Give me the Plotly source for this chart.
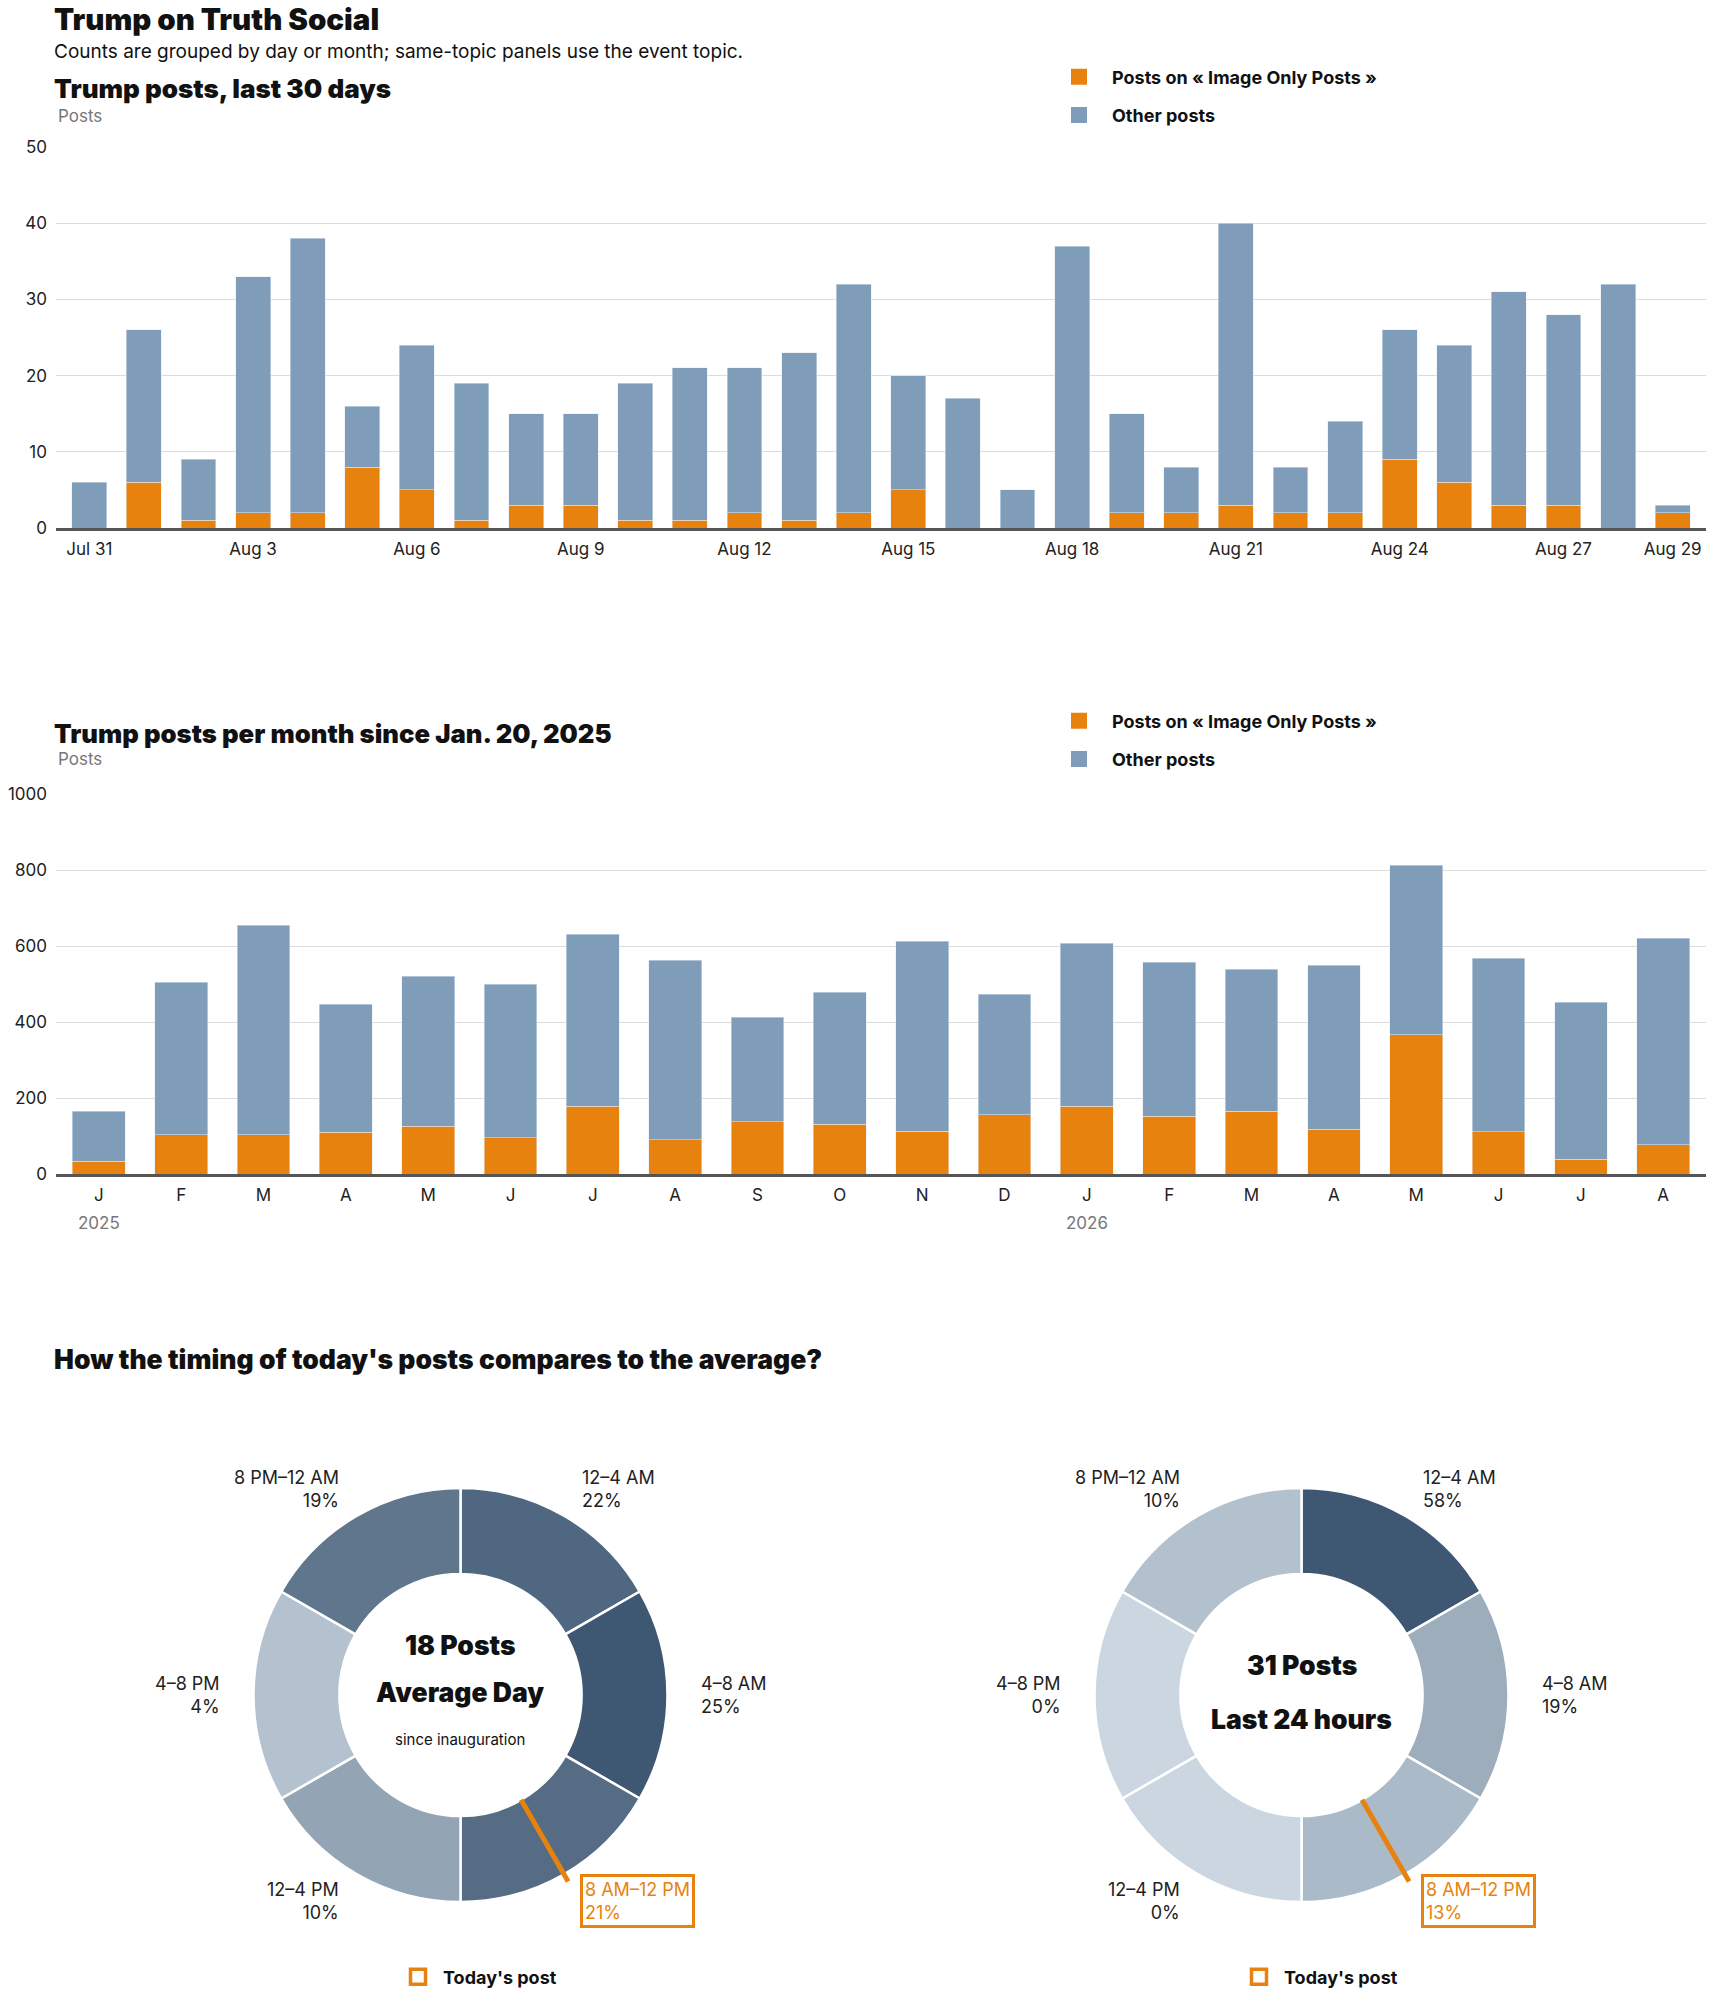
import plotly.graph_objects as go
import pandas as pd
import math

# ---- data ----
# last 30 days (Jul 31 - Aug 29)
day_dates = pd.date_range("2026-07-31", "2026-08-29")
day_topic = [0, 6, 1, 2, 2, 8, 5, 1, 3, 3, 1, 1, 2, 1, 2,
             5, 0, 0, 0, 2, 2, 3, 2, 2, 9, 6, 3, 3, 0, 2]
day_total = [6, 26, 9, 33, 38, 16, 24, 19, 15, 15, 19, 21, 21, 23, 32,
             20, 17, 5, 37, 15, 8, 40, 8, 14, 26, 24, 31, 28, 32, 3]
day_ticks = ["Jul 31", "Aug 3", "Aug 6", "Aug 9", "Aug 12", "Aug 15",
             "Aug 18", "Aug 21", "Aug 24", "Aug 27", "Aug 29"]

# per month since inauguration
month_dates = pd.date_range("2025-01-01", "2026-08-01", freq="MS")
month_topic = [33, 103, 103, 110, 126, 96, 178, 90, 137, 131,
               113, 156, 178, 152, 165, 118, 366, 111, 39, 77]
month_total = [165, 504, 654, 447, 520, 500, 631, 562, 412, 478,
               612, 473, 607, 557, 539, 549, 812, 568, 452, 621]

# time of day
slot_names = ["12–4 AM", "4–8 AM", "8 AM–12 PM", "12–4 PM", "4–8 PM", "8 PM–12 AM"]
slot_hours = [4, 4, 4, 4, 4, 4]
avg_share = [22, 25, 21, 10, 4, 19]
last24_share = [58, 19, 13, 0, 0, 10]
today_slot = "8 AM–12 PM"
avg_posts = 18
last24_posts = 31

ORANGE = "#e8820e"
BLUE = "#7f9db9"
FONT = "Inter"
TOPIC_NAME = "Posts on « Image Only Posts »"

# page geometry (body margin removed in post_script)
W, H = 1710, 1993


def fx(p):
    return min(1.0, max(0.0, p / W))


def fy(p):
    return min(1.0, max(0.0, 1 - p / H))


def shade(v, vmax):
    lo = (203, 214, 224)
    hi = (62, 88, 115)
    t = v / vmax if vmax else 0
    c = [round(a + (b - a) * t) for a, b in zip(lo, hi)]
    return "rgb(%d,%d,%d)" % tuple(c)


day_labels = [d.strftime("%b %-d") for d in day_dates]
day_other = [t - o for t, o in zip(day_total, day_topic)]
month_keys = [d.strftime("%Y-%m") for d in month_dates]
month_letters = [d.strftime("%b")[0] for d in month_dates]
month_other = [t - o for t, o in zip(month_total, month_topic)]

fig = go.Figure()

# ---- chart 1: daily ----
fig.add_trace(go.Bar(x=day_labels, y=day_topic, name=TOPIC_NAME, marker_color=ORANGE,
                     xaxis="x", yaxis="y", showlegend=False))
fig.add_trace(go.Bar(x=day_labels, y=day_other, name="Other posts", marker_color=BLUE,
                     xaxis="x", yaxis="y", showlegend=False))

# ---- chart 2: monthly ----
fig.add_trace(go.Bar(x=month_keys, y=month_topic, name=TOPIC_NAME, marker_color=ORANGE,
                     xaxis="x2", yaxis="y2", showlegend=False))
fig.add_trace(go.Bar(x=month_keys, y=month_other, name="Other posts", marker_color=BLUE,
                     xaxis="x2", yaxis="y2", showlegend=False))

# legend swatches (bigger squares than the default bar swatch)
for lg, ax, ay in [("legend", "x", "y"), ("legend2", "x2", "y2")]:
    for nm, col in [(TOPIC_NAME, ORANGE), ("Other posts", BLUE)]:
        fig.add_trace(go.Scatter(x=[None], y=[None], mode="markers", name=nm,
                                 xaxis=ax, yaxis=ay, legend=lg, legendgroup=lg + nm,
                                 marker=dict(symbol="square", size=16, color=col),
                                 hoverinfo="skip"))

# ---- donuts ----
R = 207
HOLE = 0.585
pie_centers = [(460.5, 1695), (1301.5, 1695)]
pie_sets = [(avg_share, ["%d Posts" % avg_posts, "Average Day", "since inauguration"]),
            (last24_share, ["%d Posts" % last24_posts, "Last 24 hours"])]

annotations = []
shapes = []
layout_axes = {}
EX, EY = 1.6, 1.35
for k, ((cx, cy), (share, center_txt)) in enumerate(zip(pie_centers, pie_sets)):
    fig.add_trace(go.Pie(
        labels=slot_names, values=slot_hours, sort=False, direction="clockwise",
        rotation=0, hole=HOLE, textinfo="none", showlegend=False,
        marker=dict(colors=[shade(v, max(share)) for v in share],
                    line=dict(color="white", width=2.5)),
        customdata=share, hovertemplate="%{label}: %{customdata}%<extra></extra>",
        domain=dict(x=[fx(cx - R), fx(cx + R)], y=[fy(cy + R), fy(cy - R)])))
    ax = "x%d" % (k + 3)
    ay = "y%d" % (k + 3)
    layout_axes["xaxis%d" % (k + 3)] = dict(domain=[fx(cx - EX * R), fx(cx + EX * R)],
                                            range=[-EX, EX], visible=False,
                                            anchor=ay, fixedrange=True)
    layout_axes["yaxis%d" % (k + 3)] = dict(domain=[fy(cy + EY * R), fy(cy - EY * R)],
                                            range=[-EY, EY], visible=False,
                                            anchor=ax, fixedrange=True)
    n = len(slot_names)
    for i, (name, v) in enumerate(zip(slot_names, share)):
        ang = math.radians((i + 0.5) * 360 / n)
        sx, sy = math.sin(ang), math.cos(ang)
        side = "left" if sx > 0.01 else ("right" if sx < -0.01 else "center")
        hi = name == today_slot
        annotations.append(dict(
            xref=ax, yref=ay, x=1.15 * sx, y=1.15 * sy, xanchor=side, yanchor="middle",
            align=side, showarrow=False, text="%s<br>%d%%" % (name, v),
            font=dict(family=FONT, size=18, color=ORANGE if hi else "#222"),
            bordercolor=ORANGE if hi else "rgba(0,0,0,0)", borderwidth=3 if hi else 0,
            borderpad=2))
        if hi:
            shapes.append(dict(type="line", xref=ax, yref=ay, layer="above",
                               x0=HOLE * sx, y0=HOLE * sy, x1=1.04 * sx, y1=1.04 * sy,
                               line=dict(color=ORANGE, width=5)))
    # centre text
    if len(center_txt) == 3:
        ys = [0.24, 0.015, -0.215]
        sizes = [26.5, 26.5, 15]
    else:
        ys = [0.146, -0.117]
        sizes = [26.5, 26.5]
    for t, yy, sz in zip(center_txt, ys, sizes):
        annotations.append(dict(xref=ax, yref=ay, x=0, y=yy, showarrow=False, text=t,
                                font=dict(family=FONT, size=sz, color="#111",
                                          weight=900 if sz > 20 else "normal")))
    # legend proxy
    fig.add_trace(go.Scatter(x=[None], y=[None], mode="markers", name="Today's post",
                             xaxis=ax, yaxis=ay, legend="legend%d" % (k + 3),
                             marker=dict(symbol="square-open", size=15, color=ORANGE,
                                         line=dict(width=3.5, color=ORANGE))))

# ---- texts ----
def txt(text, x, y, size, color="#111", weight="normal"):
    annotations.append(dict(xref="paper", yref="paper", x=fx(x), y=fy(y), xanchor="left",
                            yanchor="middle", showarrow=False, text=text, borderpad=0,
                            font=dict(family=FONT, size=size, color=color, weight=weight)))


txt("Trump on Truth Social", 53, 19, 29.5, weight=900)
txt("Counts are grouped by day or month; same-topic panels use the event topic.", 53, 51, 19)
txt("Trump posts, last 30 days", 53, 88, 26, weight=900)
txt("Posts", 57, 116, 17, color="#777")
txt("Trump posts per month since Jan. 20, 2025", 53, 733, 25.7, weight=900)
txt("Posts", 57, 759, 17, color="#777")
txt("How the timing of today's posts compares to the average?", 53, 1359, 26.5, weight=900)

for key, d in zip(month_keys, month_dates):
    if d.month == 1:
        annotations.append(dict(xref="x2", yref="paper", x=key, y=fy(1223), showarrow=False,
                                text=str(d.year), yanchor="middle",
                                font=dict(family=FONT, size=17, color="#777")))

axis_common = dict(showgrid=False, showline=True, linecolor="#555", linewidth=3,
                   ticks="", tickfont=dict(family=FONT, size=17, color="#222"),
                   ticklabelstandoff=4, fixedrange=True)
yaxis_common = dict(showgrid=True, gridcolor="#dcdcdc", gridwidth=1, zeroline=False,
                    showline=False, ticks="", ticklabelstandoff=8, fixedrange=True,
                    tickfont=dict(family=FONT, size=17, color="#222"))

legend_common = dict(orientation="v", xanchor="left", yanchor="middle", tracegroupgap=12,
                     itemwidth=56, itemsizing="trace",
                     font=dict(family=FONT, size=18, color="#111", weight="bold"),
                     bgcolor="rgba(0,0,0,0)", itemclick=False, itemdoubleclick=False)
today_legend = dict(legend_common, itemwidth=40)

fig.update_layout(
    width=W, height=H, margin=dict(l=0, r=0, t=0, b=0, autoexpand=False),
    paper_bgcolor="white", plot_bgcolor="white",
    barmode="stack", bargap=0.36,
    font=dict(family=FONT, color="#222"),
    xaxis=dict(axis_common, domain=[fx(56), fx(1706)], anchor="y", type="category",
               tickvals=day_ticks, ticktext=day_ticks, range=[-0.61, 29.61]),
    yaxis=dict(yaxis_common, domain=[fy(528), fy(147)], anchor="x", range=[0, 50], dtick=10),
    xaxis2=dict(axis_common, domain=[fx(56), fx(1706)], anchor="y2", type="category",
                tickvals=month_keys, ticktext=month_letters, range=[-0.52, 19.52]),
    yaxis2=dict(yaxis_common, domain=[fy(1174), fy(794)], anchor="x2", range=[0, 1000],
                dtick=200),
    legend=dict(legend_common, x=fx(1046), y=fy(96)),
    legend2=dict(legend_common, x=fx(1046), y=fy(740)),
    legend3=dict(today_legend, x=fx(393), y=fy(1977)),
    legend4=dict(today_legend, x=fx(1234), y=fy(1977)),
    annotations=annotations,
    shapes=shapes,
    hovermode="closest",
)
fig.update_layout(**layout_axes)

fig.write_html("out.html", config={"displayModeBar": False},
               post_script="document.body.style.margin='0px';"
                           "document.body.style.overflow='hidden';")
